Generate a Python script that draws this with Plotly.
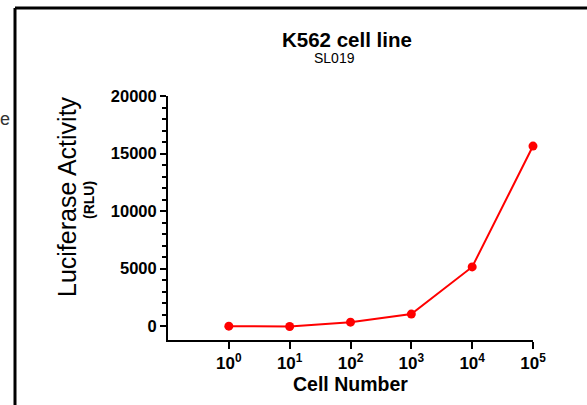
import plotly.graph_objects as go

cell_number = [1, 10, 100, 1000, 10000, 100000]
luciferase = [0, -30, 350, 1050, 5150, 15650]
x_tick_vals = [1, 10, 100, 1000, 10000, 100000]
x_tick_text = ["10<sup>0</sup>", "10<sup>1</sup>", "10<sup>2</sup>", "10<sup>3</sup>", "10<sup>4</sup>", "10<sup>5</sup>"]
y_tick_vals = [0, 5000, 10000, 15000, 20000]
y_tick_text = ["0", "5000", "10000", "15000", "20000"]
y_minor_vals = [v for v in range(1000, 20000, 1000) if v % 5000 != 0]

FONT = "Liberation Sans, Arial, sans-serif"

fig = go.Figure()
fig.add_trace(go.Scatter(
    x=cell_number, y=luciferase, mode="lines+markers",
    line=dict(color="#FF0000", width=2),
    marker=dict(color="#FF0000", size=9),
    showlegend=False, cliponaxis=False,
))

W, H = 587, 405
L, R, T, B = 168, 533, 96, 340

fig.update_layout(
    width=W, height=H,
    margin=dict(l=L, r=W - R, t=T, b=H - B, pad=0),
    paper_bgcolor="white", plot_bgcolor="white",
    font=dict(family=FONT, color="black"),
    xaxis=dict(
        type="log", range=[-1, 5],
        tickvals=x_tick_vals, ticktext=x_tick_text,
        tickfont=dict(size=17, weight="bold", family=FONT),
        showline=True, linecolor="black", linewidth=2,
        ticks="outside", ticklen=7, tickwidth=2, tickcolor="black",
        showgrid=False, zeroline=False,
    ),
    yaxis=dict(
        range=[-1200, 20000],
        tickvals=y_tick_vals, ticktext=y_tick_text,
        tickfont=dict(size=16.5, weight="bold", family=FONT),
        showline=True, linecolor="black", linewidth=2,
        ticks="outside", ticklen=6, tickwidth=2, tickcolor="black",
        minor=dict(tickvals=y_minor_vals, ticks="outside", ticklen=4, tickwidth=2, tickcolor="black"),
        showgrid=False, zeroline=False,
    ),
)

def px_x(px):
    return (px - L) / (R - L)

def px_y(py):
    return (B - py) / (B - T)

annotations = [
    dict(text="<b>K562 cell line</b>", x=px_x(347), y=px_y(40), font=dict(size=20.5)),
    dict(text="SL019", x=px_x(334), y=px_y(58), font=dict(size=14)),
    dict(text="Luciferase Activity", x=px_x(67), y=px_y(197), textangle=-90, font=dict(size=25)),
    dict(text="<b>(RLU)</b>", x=px_x(89), y=px_y(200), textangle=-90, font=dict(size=14)),
    dict(text="<b>Cell Number</b>", x=px_x(350), y=px_y(384), font=dict(size=19.5)),
    dict(text="e", x=px_x(4.5), y=px_y(119), font=dict(size=18, color="#333333")),
]
for a in annotations:
    a.update(xref="paper", yref="paper", xanchor="center", yanchor="middle", showarrow=False)
    fig.add_annotation(**a)

fig.add_shape(type="line", xref="paper", yref="paper",
              x0=px_x(15), x1=px_x(590), y0=px_y(8), y1=px_y(8),
              line=dict(color="black", width=3))
fig.add_shape(type="line", xref="paper", yref="paper",
              x0=px_x(15), x1=px_x(15), y0=px_y(8), y1=px_y(410),
              line=dict(color="black", width=3))

fig.write_html("out.html", config={"displayModeBar": False},
               post_script="document.body.style.margin='0';document.body.style.overflow='hidden';")
